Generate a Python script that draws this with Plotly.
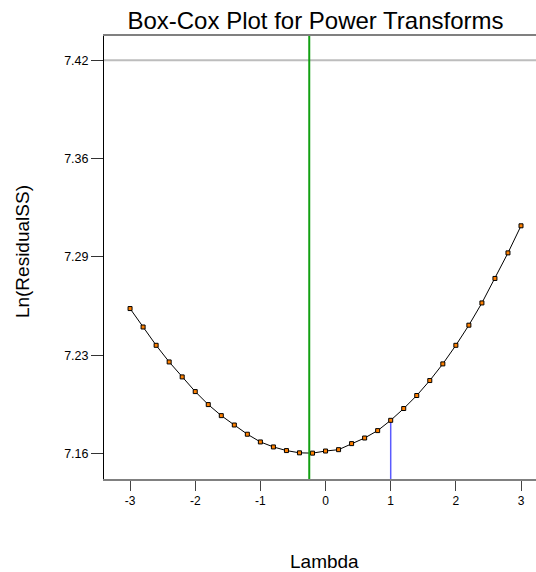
import plotly.graph_objects as go

# Box-Cox profile: ln(residual SS) against the power lambda
lambdas = [-3.0, -2.8, -2.6, -2.4, -2.2, -2.0, -1.8, -1.6, -1.4, -1.2, -1.0,
           -0.8, -0.6, -0.4, -0.2, 0.0, 0.2, 0.4, 0.6, 0.8, 1.0,
           1.2, 1.4, 1.6, 1.8, 2.0, 2.2, 2.4, 2.6, 2.8, 3.0]
ln_resid_ss = [7.2559, 7.2437, 7.2316, 7.2206, 7.2107, 7.2010, 7.1924, 7.1851,
               7.1789, 7.1728, 7.1677, 7.1644, 7.1620, 7.1605, 7.1603, 7.1617,
               7.1626, 7.1666, 7.1703, 7.1752, 7.1820, 7.1898, 7.1984, 7.2083,
               7.2193, 7.2316, 7.2449, 7.2596, 7.2758, 7.2927, 7.3106]

best_lambda = -0.25        # minimum of the curve
current_lambda = 1.0       # current transform (none)
ci_cutoff = 7.42           # confidence-interval cutoff level

y_tick_vals = [7.16, 7.225, 7.29, 7.355, 7.42]
y_tick_text = ["7.16", "7.23", "7.29", "7.36", "7.42"]
x_tick_vals = [-3, -2, -1, 0, 1, 2, 3]
x_tick_text = ["-3", "-2", "-1", "0", "1", "2", "3"]

x_range = [-3.40, 3.23]
y_range = [7.1432, 7.4361]

FONT = "Liberation Sans, Arial, sans-serif"

fig = go.Figure()

# current lambda marker line, from the axis up to the curve
y_at_current = ln_resid_ss[lambdas.index(current_lambda)]
fig.add_trace(go.Scatter(
    x=[current_lambda, current_lambda], y=[y_range[0], y_at_current],
    mode="lines", line=dict(color="#5a5aff", width=1.5),
    hoverinfo="skip", showlegend=False))

# profile curve
fig.add_trace(go.Scatter(
    x=lambdas, y=ln_resid_ss, mode="lines+markers",
    line=dict(color="black", width=1),
    marker=dict(symbol="square", size=4, color="#ff8000",
                line=dict(color="black", width=1)),
    showlegend=False))

# cutoff line and best-lambda line
fig.add_shape(type="line", xref="paper", yref="y", x0=0, x1=1,
              y0=ci_cutoff, y1=ci_cutoff,
              line=dict(color="#bdbdbd", width=2), layer="below")
fig.add_shape(type="line", xref="x", yref="paper", x0=best_lambda, x1=best_lambda,
              y0=0, y1=1, line=dict(color="#12a012", width=2))

fig.update_layout(
    width=536, height=572,
    margin=dict(l=104, r=0, t=36, b=93),
    paper_bgcolor="white", plot_bgcolor="white",
    font=dict(family=FONT, color="black"),
    title=dict(text="Box-Cox Plot for Power Transforms",
               font=dict(family=FONT, size=24, color="black"),
               x=(315.5) / 536, xanchor="center", xref="container",
               y=1 - 20.5 / 572, yanchor="middle", yref="container"),
    xaxis=dict(range=x_range, tickvals=x_tick_vals, ticktext=x_tick_text,
               ticks="outside", ticklen=10, tickcolor="#444", tickwidth=1,
               showline=True, linecolor="#808080", linewidth=2, mirror=True,
               showgrid=False, zeroline=False,
               tickfont=dict(family=FONT, size=12)),
    yaxis=dict(range=y_range, tickvals=y_tick_vals, ticktext=y_tick_text,
               ticks="outside", ticklen=12, tickcolor="#333", tickwidth=1,
               showline=True, linecolor="black", linewidth=1,
               showgrid=False, zeroline=False,
               tickfont=dict(family=FONT, size=12.5)),
    annotations=[
        dict(text="Lambda", xref="paper", yref="paper",
             x=(324 - 104) / 432, y=(479 - 561.7) / 443,
             xanchor="center", yanchor="middle", showarrow=False,
             font=dict(family=FONT, size=19)),
        dict(text="Ln(ResidualSS)", xref="paper", yref="paper",
             x=(22.6 - 104) / 432, y=(479 - 251.5) / 443, textangle=-90,
             xanchor="center", yanchor="middle", showarrow=False,
             font=dict(family=FONT, size=19)),
    ],
)

fig.write_html("out.html")
